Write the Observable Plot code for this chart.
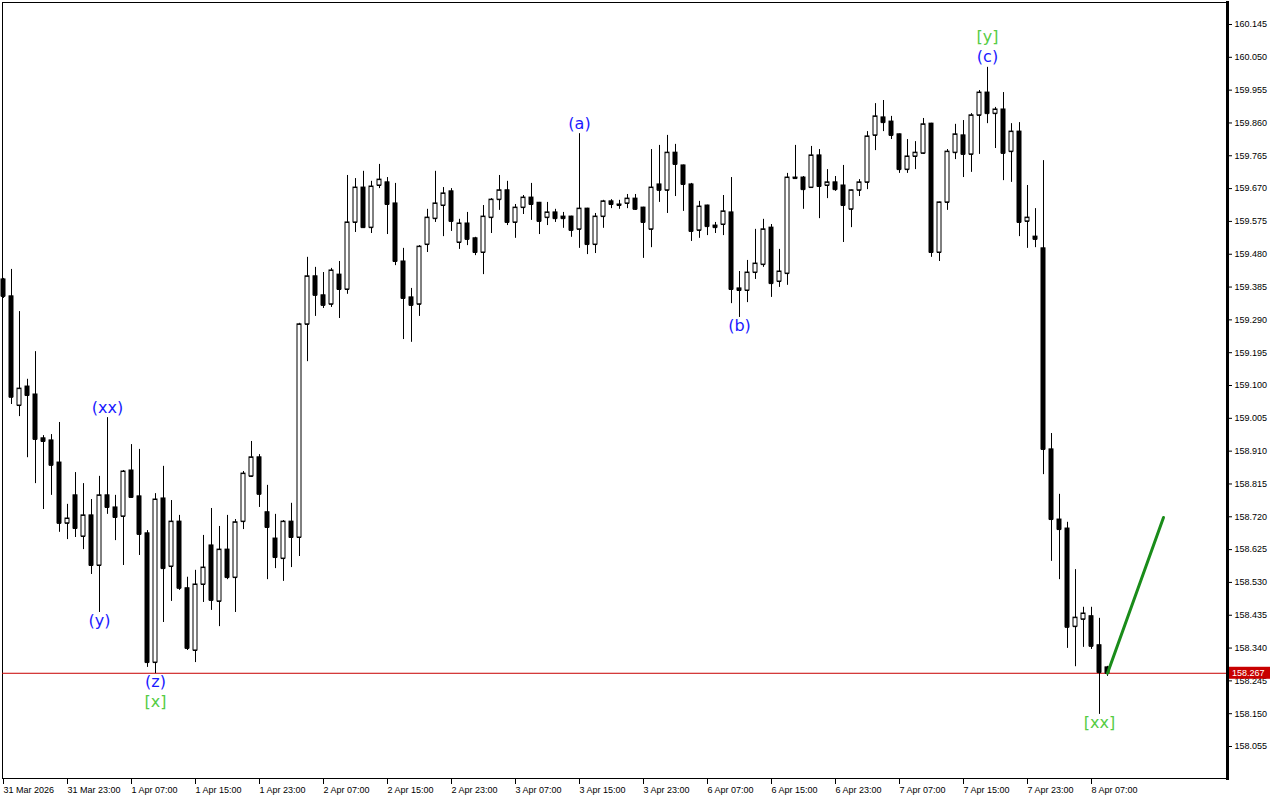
<!DOCTYPE html>
<html><head><meta charset="utf-8">
<script src="https://cdn.jsdelivr.net/npm/d3@7"></script>
<script src="https://cdn.jsdelivr.net/npm/@observablehq/plot@0.6"></script>
<style>
html,body{margin:0;padding:0;background:#fff;}
#chart{position:relative;width:1280px;height:800px;overflow:hidden;}
#chart svg{display:block;}
</style></head><body><div id="chart"></div>
<script>
// Hourly bars, 31 Mar 15:00 .. 8 Apr 09:00 (bar index 0..138)
const opens = [159.407,159.358,159.042,159.097,159.074,158.947,158.941,158.877,158.701,158.782,
158.663,158.724,158.579,158.782,158.747,158.721,158.854,158.779,158.672,158.298,
158.773,158.576,158.706,158.513,158.333,158.524,158.637,158.475,158.625,158.544,
158.706,158.837,158.892,158.733,158.657,158.599,158.706,158.660,159.277,159.416,
159.361,159.335,159.421,159.378,159.572,159.673,159.557,159.679,159.688,159.627,
159.459,159.355,159.335,159.508,159.583,159.621,159.662,159.514,159.569,159.526,
159.485,159.586,159.638,159.665,159.572,159.615,159.644,159.629,159.586,159.601,
159.589,159.589,159.552,159.612,159.508,159.589,159.633,159.624,159.627,159.641,
159.615,159.552,159.682,159.665,159.774,159.737,159.682,159.549,159.621,159.563,
159.566,159.601,159.381,159.375,159.427,159.450,159.557,159.401,159.424,159.702,
159.702,159.673,159.766,159.679,159.688,159.679,159.610,159.665,159.688,159.824,
159.876,159.864,159.827,159.725,159.763,159.772,159.858,159.485,159.630,159.774,
159.824,159.769,159.882,159.948,159.887,159.899,159.777,159.835,159.575,159.531,
159.497,158.915,158.712,158.686,158.402,158.423,158.432,158.348,158.284];
const highs = [159.410,159.436,159.314,159.118,159.198,158.955,158.958,158.993,158.756,158.848,
158.816,158.770,158.837,159.007,158.782,158.854,158.929,158.915,158.680,158.787,
158.866,158.767,158.724,158.545,158.565,158.666,158.744,158.692,158.724,158.712,
158.851,158.938,158.900,158.811,158.727,158.709,158.759,159.280,159.471,159.442,
159.427,159.439,159.459,159.708,159.699,159.720,159.691,159.740,159.702,159.685,
159.497,159.381,159.505,159.610,159.720,159.673,159.670,159.581,159.601,159.529,
159.621,159.641,159.708,159.691,159.624,159.650,159.685,159.630,159.630,159.610,
159.601,159.590,159.829,159.613,159.598,159.636,159.638,159.636,159.653,159.653,
159.616,159.783,159.795,159.824,159.798,159.738,159.685,159.633,159.622,159.572,
159.650,159.702,159.430,159.462,159.552,159.581,159.566,159.494,159.714,159.795,
159.705,159.792,159.783,159.725,159.705,159.737,159.666,159.696,159.835,159.916,
159.925,159.879,159.828,159.812,159.806,159.873,159.859,159.631,159.783,159.856,
159.867,159.887,159.954,160.021,159.905,159.948,159.858,159.861,159.679,159.612,
159.751,158.961,158.785,158.704,158.567,158.458,158.458,158.426,158.287];
const lows = [159.352,159.045,159.010,158.891,158.816,158.741,158.782,158.675,158.654,158.660,
158.625,158.553,158.443,158.727,158.651,158.579,158.773,158.608,158.284,158.266,
158.414,158.475,158.507,158.333,158.298,158.472,158.449,158.402,158.538,158.443,
158.683,158.834,158.747,158.538,158.570,158.533,158.573,158.605,159.169,159.300,
159.323,159.326,159.294,159.364,159.543,159.555,159.540,159.670,159.537,159.447,
159.233,159.225,159.300,159.485,159.572,159.531,159.546,159.494,159.505,159.476,
159.421,159.540,159.607,159.563,159.526,159.595,159.578,159.537,159.563,159.572,
159.555,159.529,159.497,159.479,159.482,159.555,159.612,159.610,159.612,159.607,
159.468,159.499,159.630,159.598,159.647,159.604,159.517,159.526,159.534,159.540,
159.534,159.337,159.297,159.340,159.407,159.442,159.355,159.384,159.390,159.699,
159.610,159.672,159.583,159.641,159.662,159.514,159.557,159.647,159.667,159.780,
159.835,159.812,159.714,159.714,159.725,159.769,159.471,159.459,159.607,159.754,
159.702,159.717,159.769,159.858,159.786,159.693,159.688,159.531,159.497,159.499,
158.842,158.591,158.538,158.339,158.286,158.342,158.336,158.148,158.258];
const closes = [159.358,159.066,159.091,159.071,158.944,158.938,158.869,158.701,158.715,158.686,
158.724,158.579,158.782,158.747,158.718,158.851,158.776,158.669,158.298,158.770,
158.570,158.706,158.513,158.339,158.524,158.573,158.478,158.625,158.544,158.704,
158.845,158.892,158.785,158.689,158.602,158.706,158.660,159.277,159.416,159.361,
159.332,159.433,159.378,159.572,159.673,159.557,159.676,159.696,159.624,159.459,
159.352,159.332,159.502,159.586,159.627,159.656,159.575,159.569,159.523,159.485,
159.589,159.638,159.665,159.572,159.615,159.644,159.624,159.575,159.601,159.583,
159.583,159.549,159.612,159.508,159.589,159.633,159.624,159.621,159.641,159.610,
159.572,159.673,159.665,159.774,159.740,159.682,159.546,159.618,159.560,159.557,
159.604,159.378,159.375,159.427,159.453,159.552,159.395,159.430,159.702,159.699,
159.667,159.766,159.676,159.688,159.667,159.621,159.665,159.688,159.821,159.879,
159.861,159.824,159.725,159.763,159.774,159.856,159.485,159.630,159.777,159.827,
159.769,159.882,159.948,159.887,159.899,159.772,159.835,159.572,159.586,159.523,
158.915,158.712,158.683,158.400,158.428,158.440,158.345,158.269,158.267];

const lastPrice = 158.267;

// time-axis labels every 8 bars
const xTickBars = [0,8,16,24,32,40,48,56,64,72,80,88,96,104,112,120,128,136];
const xTickLabels = ["31 Mar 2026","31 Mar 23:00","1 Apr 07:00","1 Apr 15:00","1 Apr 23:00",
"2 Apr 07:00","2 Apr 15:00","2 Apr 23:00","3 Apr 07:00","3 Apr 15:00","3 Apr 23:00",
"6 Apr 07:00","6 Apr 15:00","6 Apr 23:00","7 Apr 07:00","7 Apr 15:00","7 Apr 23:00","8 Apr 07:00"];

const yTickValues = [158.055,158.150,158.245,158.340,158.435,158.530,158.625,158.720,158.815,158.910,
159.005,159.100,159.195,159.290,159.385,159.480,159.575,159.670,159.765,159.860,159.955,160.050,160.145];

// wave labels
const waveTexts = ["(xx)","(y)","(z)","[x]","(a)","(b)","(c)","[y]","[xx]"];
const waveBars  = [13,12,19,19,72,92,123,123,137];
const wavePlace = ["above","below","below","below","above","below","above","above","below"];
const waveLevel = [0,0,0,1,0,0,0,1,0];
const waveDegree = ["minor","minor","minor","major","minor","minor","minor","major","major"];

// projected path
const projBars = [138,145];
const projPrices = [158.267,158.718];

const bars = opens.map((o,i)=>({i, o, h:highs[i], l:lows[i], c:closes[i]}));
const upBars = bars.filter(d=>d.c>=d.o);
const downBars = bars.filter(d=>d.c<d.o);
const waves = waveTexts.map((t,k)=>{
  const b = bars[waveBars[k]];
  const above = wavePlace[k]==="above";
  return {i:b.i, p: above ? b.h : b.l, text:t, above, level:waveLevel[k],
    color: waveDegree[k]==="major" ? "#55cc44" : "#1a1aff"};
});
const proj = projBars.map((b,k)=>({i:b, p:projPrices[k]}));
const tickMap = new Map(xTickBars.map((b,k)=>[b,xTickLabels[k]]));
const half = 0.25;

const waveMark = (above, level, dy) => Plot.text(waves.filter(w=>w.above===above && w.level===level),
  {x:"i", y:"p", text:"text", dy, fill:"color", fontSize:16,
   fontFamily:"'DejaVu Sans', Verdana, sans-serif", textAnchor:"middle", lineAnchor:"middle"});

const chart = Plot.plot({
  width:1280, height:800,
  marginLeft:2, marginTop:2, marginRight:53, marginBottom:22,
  x:{type:"linear", domain:[-0.125,153], label:null},
  y:{domain:[157.9624,160.2087], label:null},
  style:{fontFamily:"'Liberation Sans', Arial, sans-serif", background:"#fff", color:"#000", overflow:"visible"},
  marks:[
    Plot.frame({stroke:"#000", strokeWidth:1}),
    Plot.ruleY([lastPrice], {stroke:"#c80000", strokeWidth:1}),
    Plot.ruleX(bars, {x:"i", y1:"l", y2:"h", stroke:"#000", strokeWidth:1}),
    Plot.rect(upBars, {x1:d=>d.i-half, x2:d=>d.i+half, y1:"o", y2:"c", fill:"#fff", stroke:"#000", strokeWidth:1}),
    Plot.rect(downBars, {x1:d=>d.i-half, x2:d=>d.i+half, y1:"o", y2:"c", fill:"#000", stroke:"#000", strokeWidth:1}),
    Plot.ruleY(bars, {y:"o", x1:d=>d.i-half, x2:d=>d.i+half, stroke:"#000", strokeWidth:1}),
    Plot.ruleY(bars, {y:"c", x1:d=>d.i-half, x2:d=>d.i+half, stroke:"#000", strokeWidth:1}),
    Plot.line(proj, {x:"i", y:"p", stroke:"#1a8c1a", strokeWidth:3}),
    waveMark(true, 0, -10),
    waveMark(true, 1, -30),
    waveMark(false, 0, 8),
    waveMark(false, 1, 28),
    Plot.axisY({anchor:"right", ticks:yTickValues, tickFormat:d=>d.toFixed(3), tickSize:4, tickPadding:3,
      fontSize:9, textAnchor:"start", stroke:"#000", label:null}),
    Plot.axisX({anchor:"bottom", ticks:xTickBars, tickFormat:d=>tickMap.get(d) ?? "", tickSize:6, tickPadding:2,
      fontSize:9, textAnchor:"start", stroke:"#000", label:null}),
    Plot.frame({anchor:"right", stroke:"#000", strokeWidth:3})
  ]
});
document.getElementById("chart").appendChild(chart);

// current price tag on the price axis
const svg = d3.select(chart);
const yPos = chart.scale("y").apply(lastPrice);
const tag = svg.append("g");
tag.append("rect").attr("x",1229).attr("y",yPos-6).attr("width",41).attr("height",12).attr("fill","#c80000");
tag.append("text").attr("x",1232).attr("y",yPos+3.5).attr("text-anchor","start")
  .style("fill","#fff").style("font-size","9px").style("font-family","'Liberation Sans', Arial, sans-serif")
  .text(lastPrice.toFixed(3));
</script></body></html>
